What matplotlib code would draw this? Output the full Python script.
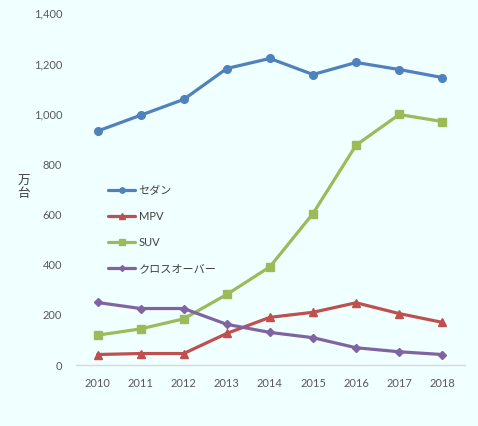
import matplotlib
matplotlib.use('Agg')
import matplotlib.pyplot as plt

plt.rcParams['font.family'] = ['Lato', 'Noto Sans CJK JP', 'DejaVu Sans']

# data (万台)
years = [2010, 2011, 2012, 2013, 2014, 2015, 2016, 2017, 2018]
sedan = [931, 994, 1057, 1180, 1220, 1156, 1204, 1176, 1144]
mpv = [42, 46, 46, 126, 190, 210, 248, 205, 170]
suv = [119, 144, 184, 281, 391, 603, 875, 997, 969]
crossover = [249, 225, 225, 162, 130, 109, 69, 53, 42]

labels = ['セダン', 'MPV', 'SUV', 'クロスオーバー']
colors = ['#4F81BD', '#C0504D', '#9BBB59', '#8064A2']
markers = ['o', '^', 's', 'D']
sizes = [5.5, 5.5, 5.5, 4.2]
y_ticks = [0, 200, 400, 600, 800, 1000, 1200, 1400]

bg = '#F0FFFF'
fig = plt.figure(figsize=(4.78, 4.26), dpi=100, facecolor=bg)
ax = fig.add_axes([0.159, 0.143, 0.814, 0.826], facecolor=bg)

for vals, lab, c, m, s in zip([sedan, mpv, suv, crossover], labels, colors, markers, sizes):
    ax.plot(years, vals, color=c, marker=m, markersize=s, linewidth=2.3, label=lab,
            markeredgecolor=c, solid_capstyle='round')

ax.set_xlim(2009.5, 2018.53)
ax.set_ylim(0, 1400)
ax.set_xticks(years)
ax.set_yticks(y_ticks)
ax.set_yticklabels([f'{v:,}' for v in y_ticks])

for side in ['top', 'right', 'left']:
    ax.spines[side].set_visible(False)
ax.spines['bottom'].set_color('#D9D9D9')
ax.spines['bottom'].set_linewidth(1)
ax.tick_params(axis='both', length=0, labelsize=8, colors='#595959')
ax.tick_params(axis='x', pad=9)
ax.tick_params(axis='y', pad=10)

fig.text(0.05, 0.56, '万\n台', fontsize=9, color='#404040', ha='center', va='center',
         linespacing=1.0, family=['Noto Sans CJK JP'])

leg = ax.legend(loc='upper left', bbox_to_anchor=(0.07, 0.525), frameon=False,
                fontsize=8, labelspacing=1.35, handlelength=2.5, handletextpad=0.3,
                borderaxespad=0, markerscale=0.7)
for t in leg.get_texts():
    t.set_color('#404040')

fig.savefig('out.png', dpi=100, facecolor=bg)
